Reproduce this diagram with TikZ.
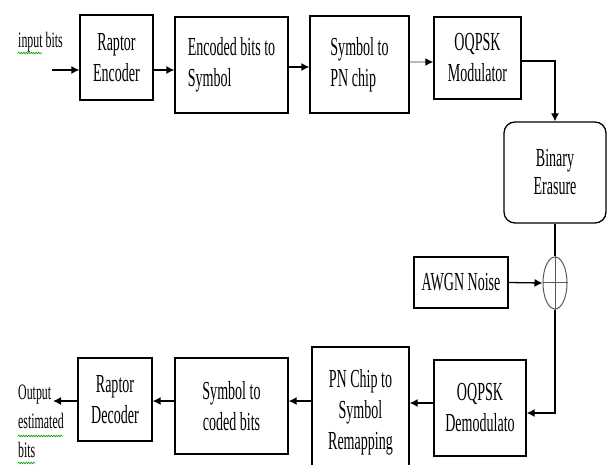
\documentclass[tikz,border=0pt]{standalone}
\usepackage{fontspec}
\setmainfont{Liberation Serif}[FakeStretch=0.54]
\usetikzlibrary{shapes,arrows.meta,positioning,calc,decorations.pathmorphing}

\begin{document}
\begin{tikzpicture}[x=1pt, y=-1pt,
    block/.style={draw, rectangle, line width=1.3pt, font=\fontsize{26}{31}\selectfont, inner sep=2pt},
    arr/.style={line width=1.3pt, -{Latex[length=8pt,width=8pt]}},
    lbl/.style={font=\fontsize{22}{29}\selectfont, inner sep=0pt},
    typo/.style={draw=green!60!black, line width=0.6pt, decorate, decoration={snake, amplitude=0.8pt, segment length=2.5pt}}]
    \useasboundingbox (0,0) rectangle (608,465);
    \clip (0,0) rectangle (608,465);

    % transmitter
    \node [block, minimum width=73pt, minimum height=85pt, align=center] (enc) at (116.5,57.5) {Raptor\\Encoder};
    \node [block, minimum width=113pt, minimum height=96pt, align=left] (e2s) at (231.5,65) {Encoded bits to\\Symbol};
    \node [block, minimum width=99pt, minimum height=97pt, align=left] (s2pn) at (359.5,64.5) {Symbol to\\PN chip};
    \node [block, minimum width=87pt, minimum height=82pt, align=center] (mod) at (477.5,58) {OQPSK\\Modulator};
    \node [lbl, anchor=base west] (inbits) at (18,48) {input bits};
    \coordinate (in) at (52,70);
    \draw [typo] ([yshift=-5pt]inbits.base west) -- ++(24,0);

    % channel
    \node [block, rounded corners=11pt, minimum width=102pt, minimum height=101pt, align=center,
           font=\fontsize{26}{28}\selectfont] (bec) at (555,172.5) {Binary\\Erasure};
    \node [block, minimum width=94pt, minimum height=51pt] (awgn) at (461,282.5) {AWGN Noise};
    \node [draw=gray!70!black, ellipse, line width=1pt, minimum width=24pt, minimum height=52pt, inner sep=0pt] (sum) at (555,283) {};

    % receiver
    \node [block, minimum width=92pt, minimum height=96pt, align=center] (demod) at (480,408) {OQPSK\\Demodulato};
    \node [block, minimum width=97pt, minimum height=130pt, align=center] (pn2s) at (360.5,412) {PN Chip to\\Symbol\\Remapping};
    \node [block, minimum width=113pt, minimum height=96pt, align=center] (s2c) at (231.5,406) {Symbol to\\coded bits};
    \node [block, minimum width=74pt, minimum height=83pt, align=center] (dec) at (115,399.5) {Raptor\\Decoder};
    \node [lbl, anchor=north west, align=left] (outbits) at (18,385) {Output\\estimated\\bits};
    \coordinate (out) at (53,401);
    \draw [typo] (18,436) -- ++(45,0);
    \draw [typo] (18,463) -- ++(17,0);

    % connections
    \draw [arr] (in) -- (in -| enc.west);
    \draw [arr] (enc.east |- in) -- (e2s.west |- in);
    \draw [arr] (e2s.east |- 0,67) -- (s2pn.west |- 0,67);
    \draw [line width=2.6pt, gray!55, -{Latex[length=8pt,width=8pt,color=black]}] (s2pn.east |- 0,62) -- (mod.west |- 0,62);
    \draw [arr] ([yshift=-3pt]mod.east) -| (bec.north);
    \draw [line width=1.3pt] (bec.south) -- (sum.north);
    \draw [line width=1pt, gray!70!black] (sum.north) -- (sum.south);
    \draw [line width=1pt, gray!70!black] (sum.west) -- (sum.east);
    \draw [arr] (awgn.east) -- (sum.west);
    \draw [arr] (sum.south) |- ([yshift=-5pt]demod.east);
    \draw [arr] ([yshift=5pt]demod.west) -- ([yshift=5pt]demod.west -| pn2s.east);
    \draw [arr] (pn2s.west |- out) -- (s2c.east |- out);
    \draw [arr] (s2c.west |- out) -- (dec.east |- out);
    \draw [arr] (dec.west |- out) -- (out);

\end{tikzpicture}
\end{document}
